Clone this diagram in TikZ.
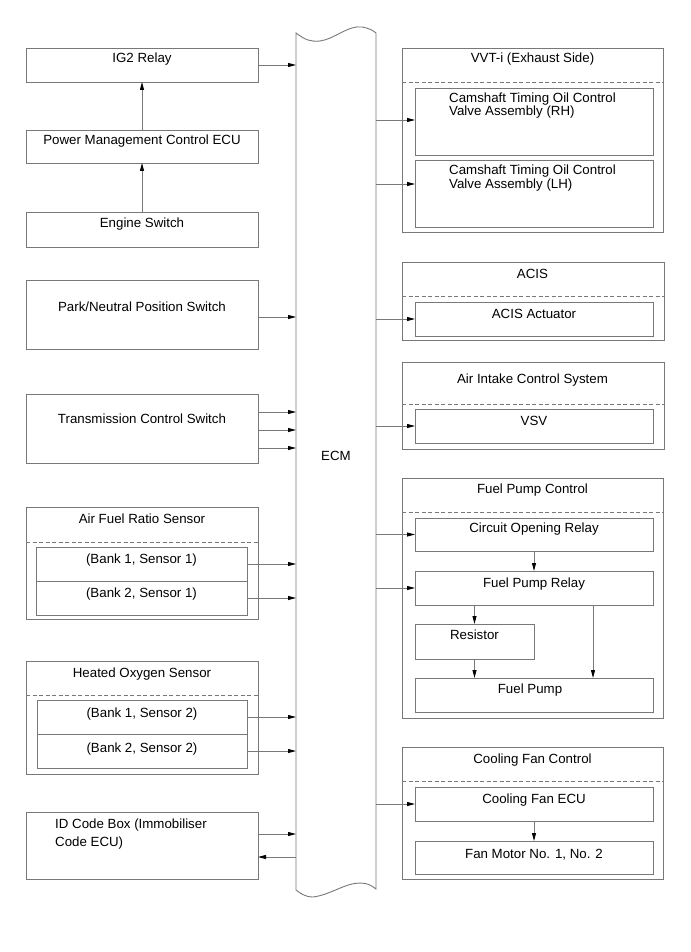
\documentclass[tikz,border=0pt]{standalone}
\usepackage{fontspec}
\setmainfont{Liberation Sans}
\usetikzlibrary{arrows.meta,fit}
\definecolor{lg}{RGB}{120,120,120}
\begin{document}
\begin{tikzpicture}[x=1pt,y=-1pt,
  box/.style={draw=lg, line width=0.9pt, inner sep=0pt, outer sep=0pt, fit={#1}},
  area/.style={inner sep=0pt, outer sep=0pt, fit={#1}},
  txt/.style={anchor=base, inner sep=0pt, font=\fontsize{13.3}{14}\selectfont},
  ltxt/.style={anchor=base west, inner sep=0pt, font=\fontsize{13.3}{14}\selectfont},
  arr/.style={draw=lg, line width=0.9pt, -{Triangle[length=8pt,width=4pt,color=black]}},
  dsh/.style={draw=lg, line width=0.9pt, dash pattern=on 4pt off 2.5pt}]
\fill[white] (0,0) rectangle (690,952);
\useasboundingbox (0,0) rectangle (690,952);

% ECM
\draw[lg, line width=0.9pt] (296,33) .. controls (305,40) and (311,42) .. (320,41)
  .. controls (335,39) and (348,25) .. (362,27)
  .. controls (369,28) and (374,31) .. (376,33) -- (376,889)
  .. controls (371,885) and (367,883) .. (360,883)
  .. controls (345,883) and (330,895) .. (313,897)
  .. controls (305,897) and (300,893) .. (296,890) -- cycle;
\node[area={(296,33) (376,890)}] (ecm) {};
\node[txt] (ecmlbl) at (336,460) {ECM};

% Left column
\node[box={(26,48) (258,82)}] (ig2) {};
\node[txt] at (142,63) {IG2 Relay};
\node[box={(26,130) (258,163)}] (pmc) {};
\node[txt] at (142,145) {Power Management Control ECU};
\node[box={(26,212) (258,247)}] (eng) {};
\node[txt] at (142,227) {Engine Switch};
\node[box={(26,280) (258,349)}] (pns) {};
\node[txt] at (142,311) {Park/Neutral Position Switch};
\node[box={(26,394) (258,463)}] (tcs) {};
\node[txt] at (142,423) {Transmission Control Switch};

\node[box={(26,507) (258,619)}] (afr) {};
\draw[dsh] (26,542) -- (258,542);
\node[txt] at (142,523) {Air Fuel Ratio Sensor};
\node[box={(36,547) (247,581)}] (b11) {};
\node[box={(36,581) (247,615)}] (b21) {};
\node[txt] at (141.5,563) {(Bank 1, Sensor 1)};
\node[txt] at (141.5,597) {(Bank 2, Sensor 1)};

\node[box={(26,661) (258,774)}] (hos) {};
\draw[dsh] (26,695) -- (258,695);
\node[txt] at (142,677) {Heated Oxygen Sensor};
\node[box={(37,700) (247,734)}] (b12) {};
\node[box={(37,734) (247,768)}] (b22) {};
\node[txt] at (142,717) {(Bank 1, Sensor 2)};
\node[txt] at (142,752) {(Bank 2, Sensor 2)};

\node[box={(26,812) (258,879)}] (idc) {};
\node[ltxt] at (55,828) {ID Code Box (Immobiliser};
\node[ltxt] at (55,846) {Code ECU)};

% Right column
\node[box={(402,48) (663,232)}] (vvt) {};
\draw[dsh] (402,82) -- (663,82);
\node[txt] at (532.5,63) {VVT-i (Exhaust Side)};
\node[box={(415,88) (653,155)}] (rh) {};
\node[ltxt] at (449,103) {Camshaft Timing Oil Control};
\node[ltxt] at (449,116) {Valve Assembly (RH)};
\node[box={(415,160) (653,227)}] (lh) {};
\node[ltxt] at (449,175) {Camshaft Timing Oil Control};
\node[ltxt] at (449,188) {Valve Assembly (LH)};

\node[box={(402,262) (664,340)}] (acis) {};
\draw[dsh] (402,296) -- (664,296);
\node[txt] at (532.5,278) {ACIS};
\node[box={(415,302) (653,336)}] (act) {};
\node[txt] at (534,318) {ACIS Actuator};

\node[box={(402,362) (664,449)}] (aics) {};
\draw[dsh] (402,404) -- (664,404);
\node[txt] at (532.5,383.5) {Air Intake Control System};
\node[box={(415,409) (653,443)}] (vsv) {};
\node[txt] at (534,425) {VSV};

\node[box={(402,478) (663,718)}] (fpc) {};
\draw[dsh] (402,512) -- (663,512);
\node[txt] at (532.5,493) {Fuel Pump Control};
\node[box={(415,518) (653,551)}] (cor) {};
\node[txt] at (534,532) {Circuit Opening Relay};
\node[box={(415,571) (653,605)}] (fpr) {};
\node[txt] at (534,587) {Fuel Pump Relay};
\node[box={(415,624) (534,659)}] (res) {};
\node[txt] at (474.5,639) {Resistor};
\node[box={(415,678) (653,712)}] (fp) {};
\node[txt] at (530,693) {Fuel Pump};

\node[box={(402,747) (663,879)}] (cfc) {};
\draw[dsh] (402,781) -- (663,781);
\node[txt] at (532.5,763) {Cooling Fan Control};
\node[box={(415,787) (653,821)}] (cfe) {};
\node[txt] at (534,803) {Cooling Fan ECU};
\node[box={(415,841) (653,874)}] (fm) {};
\node[txt] at (534,858) {Fan Motor No. 1, No. 2};

% Connector end points
\coordinate (pn1) at (258,317);
\coordinate (t1) at (258,412);
\coordinate (t2) at (258,430);
\coordinate (t3) at (258,448);
\coordinate (i1) at (258,834);
\coordinate (i2) at (258,857);
\coordinate (r1) at (415,120);
\coordinate (r2) at (415,184);
\coordinate (f1) at (593,605);

% Left connectors
\draw[arr] (pmc.north) -- (ig2.south);
\draw[arr] (eng.north) -- (pmc.south);
\draw[arr] (ig2.east) -- (ig2.east -| ecm.west);
\draw[arr] (pn1) -- (pn1 -| ecm.west);
\draw[arr] (t1) -- (t1 -| ecm.west);
\draw[arr] (t2) -- (t2 -| ecm.west);
\draw[arr] (t3) -- (t3 -| ecm.west);
\draw[arr] (b11.east) -- (b11.east -| ecm.west);
\draw[arr] (b21.east) -- (b21.east -| ecm.west);
\draw[arr] (b12.east) -- (b12.east -| ecm.west);
\draw[arr] (b22.east) -- (b22.east -| ecm.west);
\draw[arr] (i1) -- (i1 -| ecm.west);
\draw[arr] (i2 -| ecm.west) -- (i2);

% Right connectors
\draw[arr] (r1 -| ecm.east) -- (r1);
\draw[arr] (r2 -| ecm.east) -- (r2);
\draw[arr] (act.west -| ecm.east) -- (act.west);
\draw[arr] (vsv.west -| ecm.east) -- (vsv.west);
\draw[arr] (cor.west -| ecm.east) -- (cor.west);
\draw[arr] (fpr.west -| ecm.east) -- (fpr.west);
\draw[arr] (cfe.west -| ecm.east) -- (cfe.west);
\draw[arr] (cor.south) -- (cor.south |- fpr.north);
\draw[arr] (res.north |- fpr.south) -- (res.north);
\draw[arr] (res.south) -- (res.south |- fp.north);
\draw[arr] (f1) -- (f1 |- fp.north);
\draw[arr] (cfe.south) -- (cfe.south |- fm.north);
\end{tikzpicture}
\end{document}
